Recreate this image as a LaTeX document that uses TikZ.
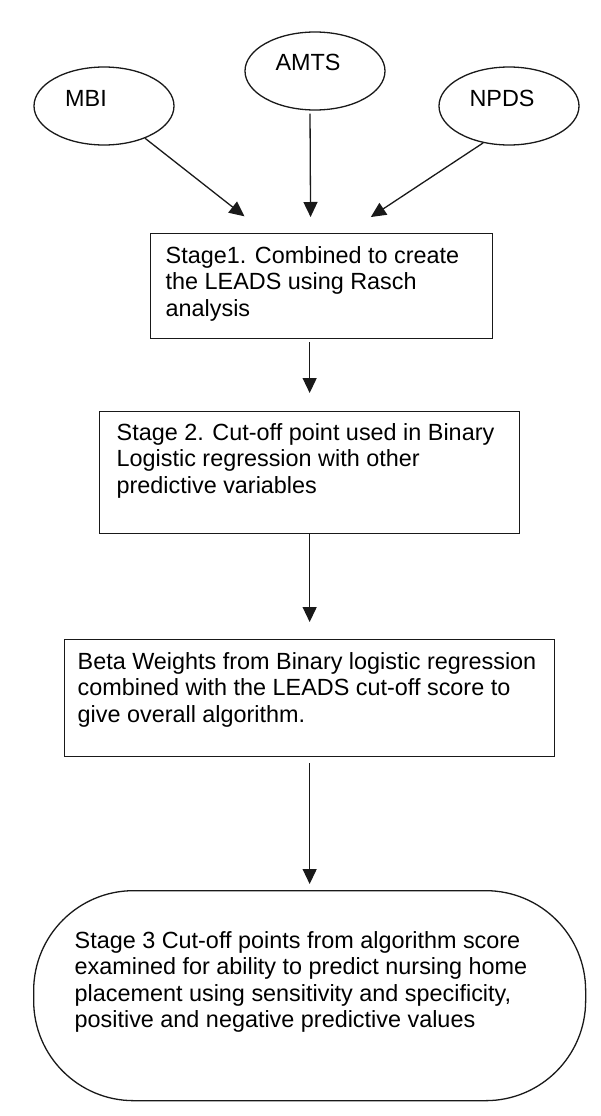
\documentclass[tikz,border=0pt]{standalone}
\usepackage{fontspec}
\setmainfont{Liberation Sans}
\usetikzlibrary{arrows.meta,shapes.geometric}
\newcommand\flowfont{\fontsize{23.4pt}{26.3pt}\selectfont}
\begin{document}
\begin{tikzpicture}[x=1pt,y=-1pt,font=\flowfont,
    measure/.style={draw=black!90,line width=1.3pt,ellipse,minimum width=140pt,minimum height=78pt,inner sep=0pt},
    stagebox/.style={draw=black!90,line width=1.3pt,anchor=north west},
    flow/.style={draw=black!90,line width=1.3pt,-{Triangle[length=15pt,width=14pt]}}]
        \useasboundingbox (0,0) rectangle (600,1116);
        \node[measure,label={[xshift=-18pt,yshift=8pt]center:MBI}] (mbi) at (104,106) {};
        \node[measure,label={[xshift=-7pt,yshift=9pt]center:AMTS}] (amts) at (315,71) {};
        \node[measure,label={[xshift=-7pt,yshift=8pt]center:NPDS}] (npds) at (509,106) {};
        \node[stagebox,inner xsep=15pt,inner ysep=13pt] (s1) at (150,233)
            {\parbox[t][79pt][t]{312pt}{\raggedright Stage1. Combined to create\\the LEADS using Rasch\\analysis}};
        \node[stagebox,inner xsep=17pt,inner ysep=12pt] (s2) at (99,411)
            {\parbox[t][98pt][t]{386pt}{\raggedright Stage 2. Cut-off point used in Binary\\Logistic regression with other\\predictive variables}};
        \node[stagebox,inner xsep=13pt,inner ysep=13pt] (s3) at (64,639)
            {\parbox[t][91pt][t]{464pt}{\raggedright Beta Weights from Binary logistic regression\\combined with the LEADS cut-off score to\\give overall algorithm.}};
        \node[stagebox,rounded corners=100pt,inner xsep=41pt,inner ysep=41pt] (s4) at (33,890)
            {\parbox[t][128pt][t]{470pt}{\raggedright Stage 3 Cut-off points from algorithm score\\examined for ability to predict nursing home\\placement using sensitivity and specificity,\\positive and negative predictive values}};
        \draw[flow,shorten >=27pt] (mbi) -- ([xshift=-56pt]s1.north);
        \draw[flow,shorten <=3pt,shorten >=16pt] ([xshift=-5pt]amts.south) -- ([xshift=-11pt]s1.north);
        \draw[flow,shorten >=29pt] (npds.-125) -- ([xshift=25pt]s1.north);
        \draw[flow,shorten <=3pt,shorten >=18pt] (s1.south -| s2.north) -- (s2.north);
        \draw[flow,shorten >=17pt] (s2.south) -- (s3.north);
        \draw[flow,shorten <=6pt,shorten >=6pt] (s3.south) -- (s4.north);
      \end{tikzpicture}
\end{document}
